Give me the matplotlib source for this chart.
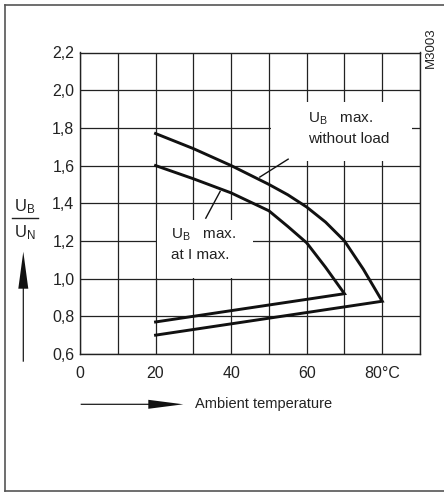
import matplotlib
matplotlib.use("Agg")
import matplotlib.pyplot as plt
from matplotlib.patches import Rectangle, FancyArrow
from matplotlib.lines import Line2D

plt.rcParams['font.family'] = ['Liberation Sans', 'DejaVu Sans']
plt.rcParams['mathtext.fontset'] = 'custom'
plt.rcParams['mathtext.rm'] = 'Liberation Sans'
plt.rcParams['mathtext.it'] = 'Liberation Sans'

# ---- data ----
no_load_x = [20, 30, 40, 50, 55, 60, 65, 70, 75, 80, 20]
no_load_y = [1.77, 1.69, 1.60, 1.50, 1.445, 1.38, 1.30, 1.20, 1.05, 0.88, 0.70]
imax_x = [20, 30, 40, 50, 55, 60, 65, 70, 20]
imax_y = [1.60, 1.53, 1.455, 1.36, 1.277, 1.19, 1.06, 0.92, 0.77]

x_ticks = [0, 20, 40, 60, 80]
x_tick_labels = ['0', '20', '40', '60', '80°C']
y_ticks = [0.6, 0.8, 1.0, 1.2, 1.4, 1.6, 1.8, 2.0, 2.2]
y_tick_labels = ['0,6', '0,8', '1,0', '1,2', '1,4', '1,6', '1,8', '2,0', '2,2']

W, H = 444, 492
fig = plt.figure(figsize=(W / 100, H / 100), dpi=100)
ax = fig.add_axes([80 / W, (H - 354) / H, 340 / W, 301.5 / H])

grid_c = '#222222'
ax.set_xlim(0, 90)
ax.set_ylim(0.6, 2.2)
ax.set_xticks(range(0, 91, 10))
ax.set_yticks(y_ticks)
ax.set_xticklabels([x_tick_labels[x_ticks.index(v)] if v in x_ticks else '' for v in range(0, 91, 10)])
ax.set_yticklabels(y_tick_labels)
ax.tick_params(length=0, labelsize=11.5, colors='#222222')
ax.tick_params(axis='x', pad=9)
ax.tick_params(axis='y', pad=4)
ax.grid(True, color=grid_c, linewidth=0.9)
ax.set_axisbelow(True)
for s in ax.spines.values():
    s.set_color(grid_c)
    s.set_linewidth(1.0)

# white label boxes that hide the grid
ax.add_patch(Rectangle((50.6, 1.625), 37.3, 0.313, facecolor='white', edgecolor='none', zorder=1.5))
ax.add_patch(Rectangle((20.4, 1.005), 25.4, 0.307, facecolor='white', edgecolor='none', zorder=1.5))

ax.plot(no_load_x, no_load_y, color='#111111', linewidth=2.1, zorder=3, solid_joinstyle='miter')
ax.plot(imax_x, imax_y, color='#111111', linewidth=2.1, zorder=3, solid_joinstyle='miter')

# leader lines
ax.plot([55.1, 47.6], [1.634, 1.539], color='#111111', linewidth=1.0, zorder=3)
ax.plot([37.1, 33.3], [1.463, 1.321], color='#111111', linewidth=1.0, zorder=3)

tc = '#222222'
fs = 11
ax.text(60.4, 1.83, r'U$_\mathrm{B}$   max.', fontsize=fs, color=tc, zorder=4, va='baseline')
ax.text(60.4, 1.72, 'without load', fontsize=fs, color=tc, zorder=4, va='baseline')
ax.text(24.2, 1.21, r'U$_\mathrm{B}$   max.', fontsize=fs, color=tc, zorder=4, va='baseline')
ax.text(24.2, 1.105, 'at I max.', fontsize=fs, color=tc, zorder=4, va='baseline')

# helper: pixel (from top-left) to figure inches
def P(x, y):
    return x / 100, (H - y) / 100

tr = fig.dpi_scale_trans

# y-axis label as fraction
fig.text(*P(25, 207), r'U$_\mathrm{B}$', transform=tr, fontsize=12, color=tc, ha='center', va='center')
fig.add_artist(Line2D([12 / 100, 38 / 100], [(H - 218) / 100] * 2, transform=tr, color=tc, linewidth=1.0))
fig.text(*P(25, 233), r'U$_\mathrm{N}$', transform=tr, fontsize=12, color=tc, ha='center', va='center')

# vertical arrow
x0, y0 = P(23.3, 361.7)
x1, y1 = P(23.3, 251.7)
fig.add_artist(FancyArrow(x0, y0, 0, y1 - y0, width=0.012, head_width=0.10, head_length=0.37,
                          length_includes_head=True, transform=tr, color='#111111', linewidth=0))

# horizontal arrow + label
x0, y0 = P(80.7, 404.3)
x1, y1 = P(183.3, 404.3)
fig.add_artist(FancyArrow(x0, y0, x1 - x0, 0, width=0.012, head_width=0.09, head_length=0.35,
                          length_includes_head=True, transform=tr, color='#111111', linewidth=0))
fig.text(*P(195, 404), 'Ambient temperature', transform=tr, fontsize=10.5, color=tc, ha='left', va='center')

# code label
fig.text(*P(431, 48), 'M3003', transform=tr, fontsize=9.5, color=tc, rotation=90, ha='center', va='center')

# outer frame (left, top, bottom)
bc = '#555555'
fig.add_artist(Line2D([5 / 100, 5 / 100], [(H - 5) / 100, (H - 490.5) / 100], transform=tr, color=bc, linewidth=1.2))
fig.add_artist(Line2D([5 / 100, W / 100], [(H - 5) / 100] * 2, transform=tr, color=bc, linewidth=1.2))
fig.add_artist(Line2D([5 / 100, W / 100], [(H - 490.5) / 100] * 2, transform=tr, color=bc, linewidth=1.2))

fig.savefig('out.png', dpi=100)
